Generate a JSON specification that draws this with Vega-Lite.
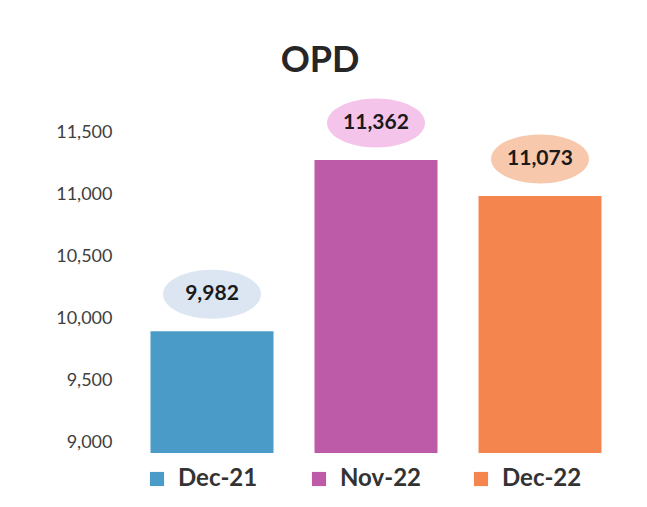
{
  "$schema": "https://vega.github.io/schema/vega-lite/v6.json",
  "width": 492,
  "height": 372,
  "autosize": "none",
  "padding": {"left": 130, "top": 81, "right": 25, "bottom": 54},
  "background": "white",
  "config": {"view": {"stroke": null}},
  "title": {
    "text": "OPD",
    "fontSize": 36,
    "font": "Lato",
    "fontWeight": "bold",
    "color": "#262626",
    "anchor": "middle",
    "dx": -56,
    "offset": 1
  },
  "data": {
    "values": [
      {"month": "Dec-21", "opd": 9982},
      {"month": "Nov-22", "opd": 11362},
      {"month": "Dec-22", "opd": 11073}
    ]
  },
  "encoding": {
    "x": {
      "field": "month",
      "type": "nominal",
      "sort": null,
      "scale": {"paddingInner": 0.25, "paddingOuter": 0.125},
      "axis": null
    },
    "y": {
      "field": "opd",
      "type": "quantitative",
      "scale": {"domain": [9000, 12000], "nice": false, "zero": false},
      "axis": {
        "values": [9000, 9500, 10000, 10500, 11000, 11500],
        "format": ",d",
        "title": null,
        "domain": false,
        "ticks": false,
        "grid": false,
        "labelOffset": -11,
        "labelPadding": 18,
        "labelFont": "Lato",
        "labelFontSize": 18,
        "labelColor": "#404040"
      }
    }
  },
  "layer": [
    {
      "mark": {"type": "bar", "clip": true},
      "encoding": {
        "color": {
          "field": "month",
          "type": "nominal",
          "sort": null,
          "scale": {"domain": ["Dec-21", "Nov-22", "Dec-22"], "range": ["#4a9bc8", "#bd5ba9", "#f5854f"]},
          "legend": {
            "title": null,
            "orient": "none",
            "direction": "horizontal",
            "legendX": 15,
            "legendY": 386,
            "symbolType": "square",
            "symbolSize": 200,
            "symbolStrokeWidth": 0,
            "labelFont": "Lato",
            "labelFontSize": 24,
            "labelFontWeight": "bold",
            "labelColor": "#333333",
            "labelOffset": 9,
            "columnPadding": 48,
            "gridAlign": "all"
          }
        }
      }
    },
    {
      "mark": {
        "type": "point",
        "shape": "M -1 0 A 1 0.5 0 1 1 1 0 A 1 0.5 0 1 1 -1 0 Z",
        "size": 9600,
        "filled": true,
        "yOffset": -37,
        "opacity": 1
      },
      "encoding": {
        "fill": {
          "field": "month",
          "type": "nominal",
          "sort": null,
          "scale": {"domain": ["Dec-21", "Nov-22", "Dec-22"], "range": ["#dce6f2", "#f5c4ea", "#f8c8ad"]},
          "legend": null
        }
      }
    },
    {
      "mark": {
        "type": "text",
        "font": "Lato",
        "fontSize": 21,
        "fontWeight": "bold",
        "color": "#1a1a1a",
        "yOffset": -37
      },
      "encoding": {
        "text": {"field": "opd", "type": "quantitative", "format": ",d"}
      }
    }
  ]
}
